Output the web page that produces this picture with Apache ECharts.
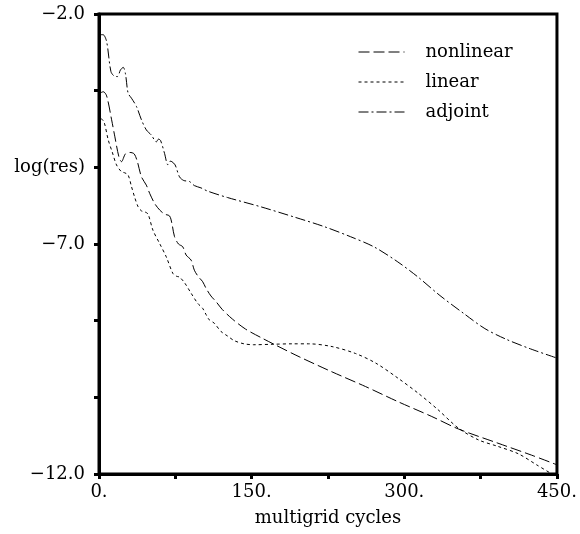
<!DOCTYPE html>
<html>
<head>
<meta charset="utf-8">
<script src="https://cdn.jsdelivr.net/npm/echarts@6/dist/echarts.min.js"></script>
<style>
html,body{margin:0;padding:0;background:#fff;}
#chart{width:580px;height:534px;}
</style>
</head>
<body>
<div id="chart"></div>
<script>
// ---- data (x = multigrid cycles, y = log(res)) ----
const seriesNames = ['nonlinear', 'linear', 'adjoint'];

const nonlinear = [
  [1,-3.72],[4.2,-3.69],[7.5,-3.78],[12.4,-4.30],[15.6,-4.67],[19.5,-5.10],[22.1,-5.21],
  [26,-5.04],[30.3,-5.01],[34.5,-5.04],[37.7,-5.21],[41.7,-5.54],[46.5,-5.72],[49.8,-5.90],
  [54.7,-6.12],[59.6,-6.26],[64.4,-6.35],[69.3,-6.39],[71.6,-6.55],[74.2,-6.84],[78.1,-7.00],
  [82.3,-7.06],[85.6,-7.24],[90.5,-7.35],[93.7,-7.57],[97.6,-7.71],[101.9,-7.82],[105.1,-7.96],
  [110,-8.13],[114.9,-8.25],[121,-8.42],[131,-8.63],[144,-8.85],[158.8,-9.03],[173.8,-9.20],
  [196.6,-9.45],[229,-9.78],[262,-10.10],[294,-10.43],[327,-10.75],[353,-11.02],[392,-11.33],
  [425,-11.59],[450,-11.80]
];

const linear = [
  [2,-4.27],[5,-4.35],[9.1,-4.74],[13,-5.0],[17.2,-5.28],[22.1,-5.43],[25,-5.45],[28.6,-5.50],
  [31.9,-5.75],[35,-5.98],[38.4,-6.19],[41.7,-6.28],[44.9,-6.30],[48.2,-6.35],[53,-6.70],
  [59.6,-6.99],[66.1,-7.28],[72.6,-7.64],[76,-7.70],[79.1,-7.72],[84,-7.84],[90.5,-8.07],
  [97,-8.29],[101.9,-8.40],[105.1,-8.53],[108.4,-8.65],[113.2,-8.72],[119.8,-8.90],[126.3,-9.00],
  [132.8,-9.10],[142.5,-9.17],[152,-9.19],[170,-9.18],[190,-9.17],[206,-9.17],[229,-9.23],
  [252,-9.38],[272,-9.59],[294,-9.92],[314,-10.25],[333,-10.60],[353,-11.00],[373,-11.26],
  [392,-11.40],[412,-11.56],[430,-11.80],[445,-12.0]
];

const adjoint = [
  [1,-2.45],[4,-2.45],[7.5,-2.60],[11.7,-3.25],[15,-3.35],[18.2,-3.36],[21,-3.22],[23.8,-3.16],
  [26,-3.30],[28.6,-3.72],[31.9,-3.83],[36.8,-4.01],[41.7,-4.30],[46.5,-4.52],[51.4,-4.63],
  [56.3,-4.78],[58.5,-4.72],[60.5,-4.75],[64.4,-5.03],[67.7,-5.28],[70,-5.20],[71.6,-5.21],
  [74.8,-5.28],[79.1,-5.54],[83.3,-5.62],[88.8,-5.64],[93.7,-5.73],[100.2,-5.78],[106.7,-5.85],
  [126.3,-5.99],[158.8,-6.19],[191.3,-6.41],[221,-6.62],[247,-6.84],[270,-7.06],[293,-7.38],
  [313,-7.71],[335,-8.12],[359.6,-8.53],[379.2,-8.84],[400,-9.07],[424,-9.28],[450,-9.48]
];

// ---- axes / ticks ----
const xMin = 0, xMax = 450, xTickStep = 75, xLabelStep = 150;
const yMin = -12, yMax = -2;
const yTickValues = [-12, -10.3333333, -8.6666667, -7, -5.3333333, -3.6666667, -2];
const yLabelValues = [-12, -7, -5.3333333, -2];
const yLabelTexts = ['\u221212.0', '\u22127.0', 'log(res)', '\u22122.0'];
const xTitle = 'multigrid cycles';

const FONT = 'DejaVu Serif';
const FS = 18;

const chart = echarts.init(document.getElementById('chart'), null, {renderer: 'canvas'});

const dashStyles = {
  nonlinear: [11, 4],
  linear: [3, 3],
  adjoint: [10, 3, 2, 3]
};
const dataMap = {nonlinear, linear, adjoint};

chart.setOption({
  animation: false,
  backgroundColor: '#fff',
  grid: {
    left: 99, right: 21, top: 14, bottom: 60,
    show: true, borderColor: '#000', borderWidth: 3, backgroundColor: 'transparent'
  },
  legend: {
    orient: 'vertical',
    left: 353, top: 37,
    itemWidth: 46, itemHeight: 20, itemGap: 10,
    data: seriesNames,
    itemStyle: {opacity: 0, borderWidth: 0},
    lineStyle: {width: 1, color: '#000'},
    textStyle: {fontFamily: FONT, fontSize: FS, color: '#000', padding: [0, 0, 0, 16], lineHeight: 20}
  },
  xAxis: {
    type: 'value', min: xMin, max: xMax, interval: xTickStep,
    axisLine: {show: true, lineStyle: {color: '#000', width: 3}},
    axisTick: {show: true, length: 5, lineStyle: {color: '#000', width: 3}},
    splitLine: {show: false},
    axisLabel: {
      margin: 9, color: '#000', fontFamily: FONT, fontSize: FS,
      formatter: v => (Math.abs(v % xLabelStep) < 1e-6 ? v + '.' : '')
    },
    name: xTitle, nameLocation: 'middle', nameGap: 35,
    nameTextStyle: {fontFamily: FONT, fontSize: FS, color: '#000'}
  },
  yAxis: {
    type: 'value', min: yMin, max: yMax,
    axisLine: {show: true, lineStyle: {color: '#000', width: 3}},
    axisTick: {show: true, length: 5, customValues: yTickValues, lineStyle: {color: '#000', width: 3}},
    splitLine: {show: false},
    axisLabel: {
      margin: 14, color: '#000', fontFamily: FONT, fontSize: FS,
      customValues: yLabelValues,
      formatter: v => {
        let best = 0, d = Infinity;
        yLabelValues.forEach((t, i) => { const dd = Math.abs(t - v); if (dd < d) { d = dd; best = i; } });
        return yLabelTexts[best];
      }
    }
  },
  series: seriesNames.map(name => ({
    name,
    type: 'line',
    data: dataMap[name],
    showSymbol: false,
    symbol: 'none',
    smooth: 0.3,
    clip: true,
    lineStyle: {color: '#000', width: 1, type: dashStyles[name]},
    itemStyle: {color: '#000'}
  }))
});
</script>
</body>
</html>
